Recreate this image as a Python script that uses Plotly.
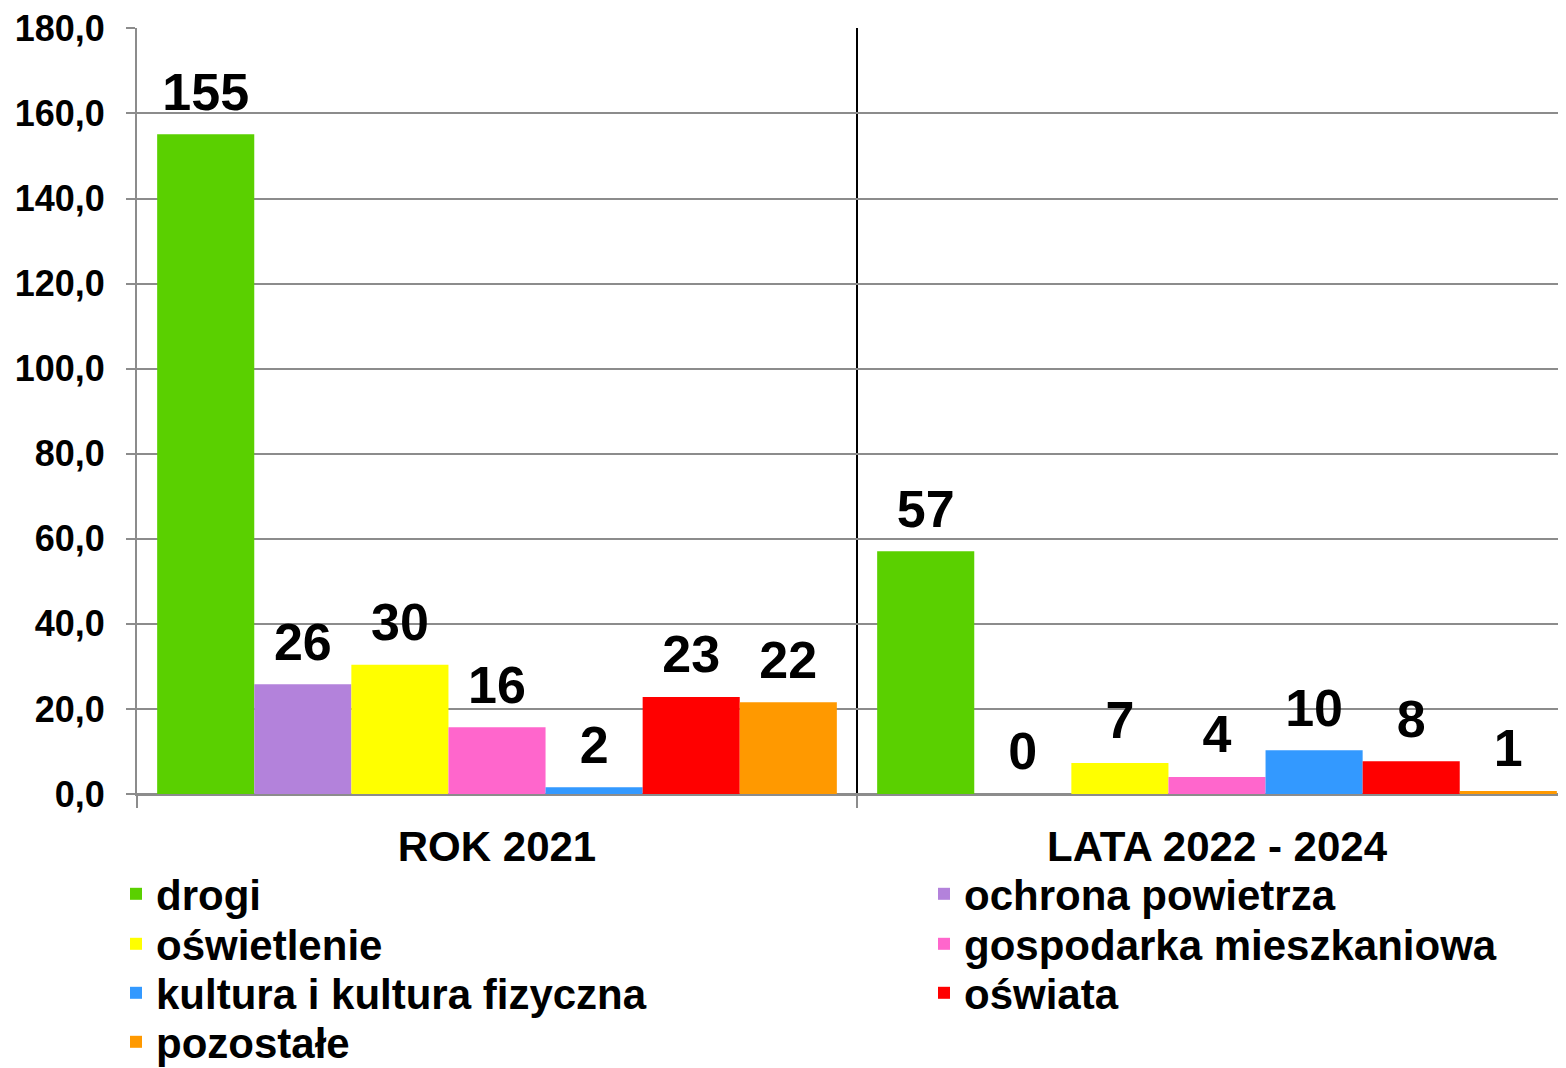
import plotly.graph_objects as go

# ── 資料 ──────────────────────────────────────
categories = ["ROK 2021", "LATA 2022 - 2024"]

drogi = [155.1, 57.1]
ochrona_powietrza = [25.8, 0.0]
oswietlenie = [30.4, 7.3]
gospodarka_mieszkaniowa = [15.7, 4.0]
kultura = [1.6, 10.3]
oswiata = [22.8, 7.7]
pozostale = [21.6, 0.7]

series_names = [
    "drogi", "ochrona powietrza", "oświetlenie", "gospodarka mieszkaniowa",
    "kultura i kultura fizyczna", "oświata", "pozostałe",
]
series_values = [drogi, ochrona_powietrza, oswietlenie, gospodarka_mieszkaniowa,
                 kultura, oswiata, pozostale]
series_colors = ["#5AD000", "#B382DB", "#FFFF00", "#FF66CC", "#3399FF", "#FF0000", "#FF9900"]

y_ticks = [0, 20, 40, 60, 80, 100, 120, 140, 160, 180]

FONT = "Liberation Sans, Arial, sans-serif"
GRID = "#8c8c8c"
GAP = 0.056

# 佈局（像素）— 頁面 body 預設有 8px 邊距，圖表尺寸扣掉
OFFSET = 8
W, H = 1566 - OFFSET, 1068 - OFFSET
M_L, M_R, M_T, M_B = 137 - OFFSET, 0, 28 - OFFSET, 274
PLOT_W = W - M_L - M_R
PLOT_H = H - M_T - M_B
CAT_W = 720  # 每個類別寬度（右側超出畫面一點）

fig = go.Figure()

# 柱狀
for i, (name, vals, color) in enumerate(zip(series_names, series_values, series_colors)):
    fig.add_trace(go.Bar(
        x=categories, y=vals, name=name,
        marker=dict(color=color, line=dict(width=0)),
        offsetgroup=str(i),
        legend="legend" if i == 0 else f"legend{i + 1}",
        hovertemplate="%{x}<br>" + name + ": %{y:.1f}<extra></extra>",
    ))

# 數值標籤（與柱狀同位置分組）
for i, (name, vals) in enumerate(zip(series_names, series_values)):
    fig.add_trace(go.Scatter(
        x=categories, y=vals, mode="markers+text",
        orientation="v", offsetgroup=str(i),
        texttemplate="%{y:.0f}", textposition="top center",
        textfont=dict(family=FONT, size=52, color="black", weight="bold"),
        marker=dict(size=17, color="rgba(0,0,0,0)"),
        cliponaxis=False, showlegend=False, hoverinfo="skip",
    ))

# 圖例：兩欄，每項一個 legend 以控制行距
legend_font = dict(family=FONT, size=42, color="black", weight="bold")
col_left = [116 - OFFSET, 924 - OFFSET]          # legend box left edge, px
row_center = [r - OFFSET for r in (894, 944, 993, 1042)]  # px from top
legends = {}
for i in range(len(series_names)):
    key = "legend" if i == 0 else f"legend{i + 1}"
    col, row = i % 2, i // 2
    legends[key] = dict(
        x=(col_left[col] - M_L) / PLOT_W, xanchor="left",
        y=(H - M_B - row_center[row]) / PLOT_H, yanchor="middle",
        font=legend_font, bgcolor="rgba(0,0,0,0)", borderwidth=0,
    )

fig.update_layout(
    width=W, height=H,
    margin=dict(l=M_L, r=M_R, t=M_T, b=M_B, autoexpand=False),
    plot_bgcolor="white", paper_bgcolor="white",
    barmode="group", bargap=GAP, bargroupgap=0,
    scattermode="group", scattergap=GAP,
    separators=", ",
    font=dict(family=FONT, color="black", weight="bold"),
    showlegend=True,
    **legends,
)

fig.update_xaxes(
    type="category", tickson="boundaries",
    range=[-0.5, -0.5 + PLOT_W / CAT_W],
    ticks="outside", ticklen=12, tickwidth=2, tickcolor=GRID,
    showgrid=True, gridcolor="black", gridwidth=2,
    showline=True, linecolor=GRID, linewidth=2,
    ticklabelstandoff=15,
    tickfont=dict(family=FONT, size=42, color="black", weight="bold"),
)
fig.update_yaxes(
    range=[0, 180.1], tickvals=y_ticks, tickformat=".1f",
    ticks="outside", ticklen=9, tickwidth=2, tickcolor=GRID,
    showgrid=True, gridcolor=GRID, gridwidth=2,
    zeroline=True, zerolinecolor=GRID, zerolinewidth=2,
    showline=True, linecolor=GRID, linewidth=2,
    ticklabelstandoff=14,
    tickfont=dict(family=FONT, size=36, color="black", weight="bold"),
)

fig.write_html("out.html")
